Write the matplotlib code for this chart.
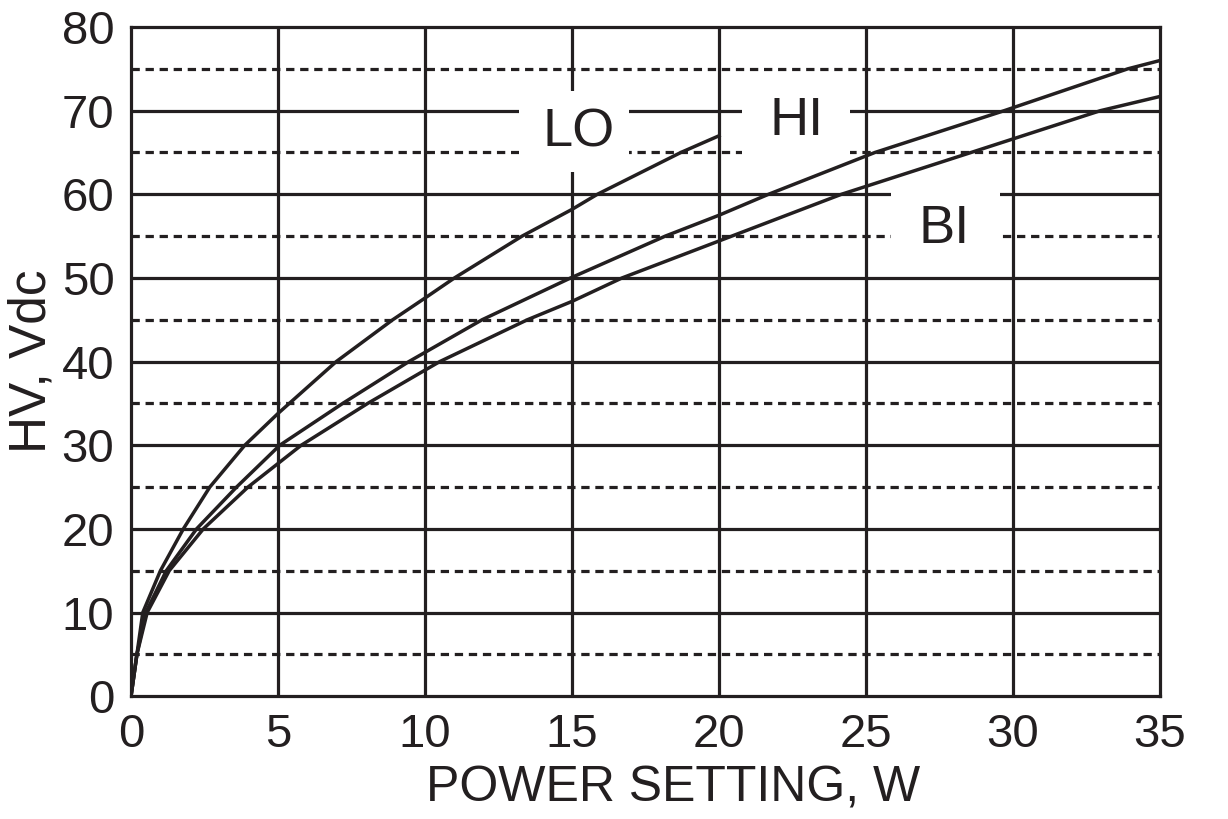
import matplotlib
matplotlib.use("Agg")
import matplotlib.pyplot as plt
from matplotlib.patches import Rectangle

plt.rcParams['font.family'] = ['Liberation Sans', 'DejaVu Sans']

# Data
lo_x = [0, 0.2, 0.4, 1.0, 1.78, 2.68, 3.87, 5.0, 6.98, 8.9, 10.0, 11.0, 13.3, 15.0, 15.86, 18.7, 20.0]
lo_y = [0, 5, 10, 15, 20, 25, 30, 33.8, 40, 45, 47.6, 50, 55, 58.2, 60, 65, 67]

hi_x = [0, 0.2, 0.5, 1.2, 2.23, 3.59, 5.06, 7.2, 9.45, 11.94, 14.95, 18.17, 20.0, 21.68, 25.3, 29.7, 33.9, 35.0]
hi_y = [0, 5, 10, 15, 20, 25, 30, 35, 40, 45, 50, 55, 57.5, 60, 65, 70, 75, 76]

bi_x = [0, 0.2, 0.55, 1.3, 2.46, 3.98, 5.79, 8.05, 10.5, 13.48, 15.0, 16.7, 20.43, 24.16, 28.57, 32.97, 35.0]
bi_y = [0, 5, 10, 15, 20, 25, 30, 35, 40, 45, 47.2, 50, 55, 60, 65, 70, 71.7]

x_ticks = [0, 5, 10, 15, 20, 25, 30, 35]
y_ticks = [0, 10, 20, 30, 40, 50, 60, 70, 80]
y_minor = [5, 15, 25, 35, 45, 55, 65, 75]

series_labels = ["LO", "HI", "BI"]

INK = '#231f20'
LW_GRID = 2.3
LW_CURVE = 2.5

fig = plt.figure(figsize=(12.28, 8.19), dpi=100)
ax = fig.add_axes([0.1067, 0.150, 0.838, 0.817])
ax.set_xlim(0, 35)
ax.set_ylim(0, 80)

# grid
for xv in x_ticks[1:-1]:
    ax.axvline(xv, color=INK, lw=LW_GRID, zorder=1)
for yv in y_ticks[1:-1]:
    ax.axhline(yv, color=INK, lw=LW_GRID, zorder=1)
for yv in y_minor:
    ax.axhline(yv, color=INK, lw=LW_GRID, ls=(0, (2.6, 1.8)), zorder=1)

# white label boxes (layout)
boxes = [
    (13.18, 62.7, 3.75, 9.7, 15.22, 67.4),
    (20.78, 64.0, 3.68, 9.6, 22.62, 68.8),
    (25.86, 50.9, 3.68, 10.15, 27.67, 55.9),
]
for (bx, by, bw, bh, tx, ty), lab in zip(boxes, series_labels):
    ax.add_patch(Rectangle((bx, by), bw, bh, facecolor='white', edgecolor='none', zorder=2))
    ax.text(tx, ty, lab, fontsize=39, color=INK, ha='center', va='center', zorder=3)

for xs, ys in [(lo_x, lo_y), (hi_x, hi_y), (bi_x, bi_y)]:
    ax.plot(xs, ys, color=INK, lw=LW_CURVE, zorder=4, solid_joinstyle='round')

for s in ax.spines.values():
    s.set_color(INK)
    s.set_linewidth(LW_GRID)
    s.set_zorder(5)

ax.set_xticks(x_ticks)
ax.set_yticks(y_ticks)
ax.tick_params(length=0, labelsize=34, colors=INK, pad=12)
ax.set_xlabel("POWER SETTING, W", fontsize=36, color=INK)
ax.xaxis.set_label_coords(0.527, -0.138)
ax.xaxis.label.set_va('center')
ax.set_ylabel("HV, Vdc", fontsize=37, color=INK, labelpad=4)

fig.savefig("out.png", dpi=100)
